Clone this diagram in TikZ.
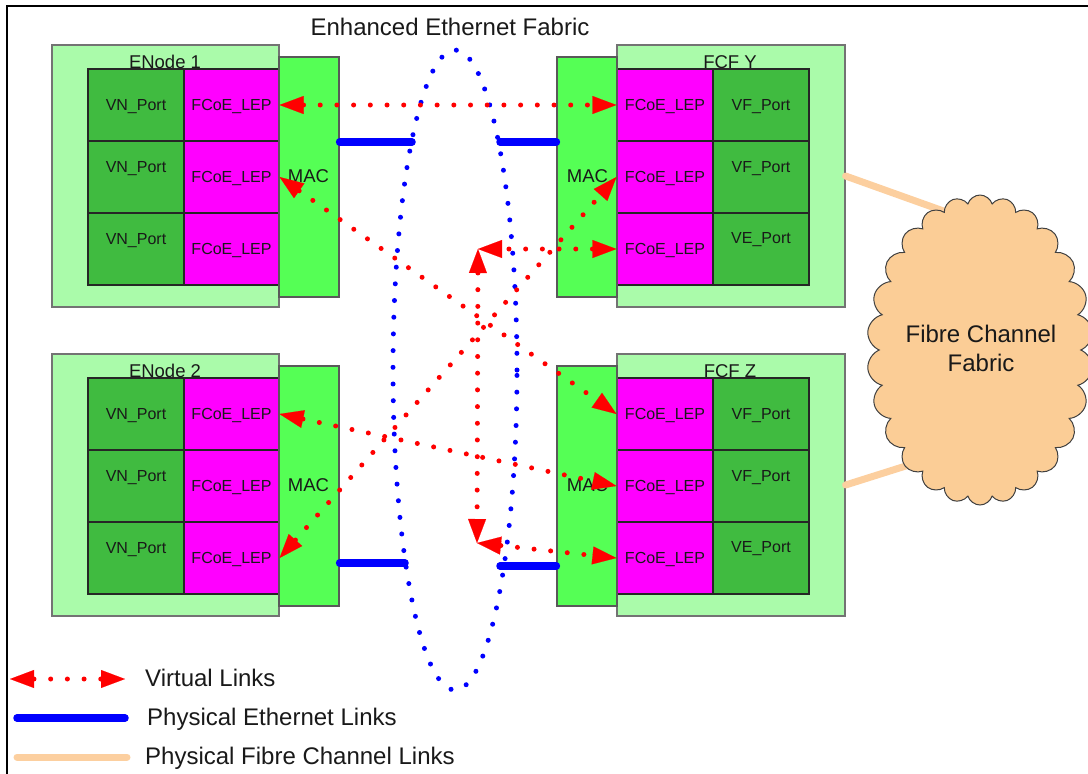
\documentclass[tikz,border=0pt]{standalone}
\usepackage{fontspec}
\setmainfont{Liberation Sans}
\usetikzlibrary{arrows.meta,shapes.symbols}

\definecolor{boxgreen}{HTML}{AAFBAA}
\definecolor{macgreen}{HTML}{55FF55}
\definecolor{portgreen}{HTML}{40BB40}
\definecolor{lepmag}{HTML}{FF00FF}
\definecolor{fcpeach}{HTML}{FBCD96}
\definecolor{fcline}{HTML}{FCCF9F}
\definecolor{ethblue}{HTML}{0000FF}
\definecolor{vred}{HTML}{FF0000}

\tikzset{
  outerbox/.style={draw=black!55, fill=boxgreen, line width=1.2pt,
    minimum width=227pt, minimum height=262pt, inner sep=0pt},
  macbox/.style={draw=black!65, fill=macgreen, line width=1.2pt,
    minimum width=60pt, minimum height=240pt, inner sep=0pt},
  portcell/.style={draw=black!85, fill=portgreen, line width=1.1pt,
    minimum width=96pt, minimum height=72pt, inner sep=0pt},
  lepcell/.style={draw=black!85, fill=lepmag, line width=1.1pt,
    minimum width=96pt, minimum height=72pt, inner sep=0pt},
  celltext/.style={anchor=base, inner sep=0pt, text=black!90,
    font=\fontsize{16}{19}\selectfont},
  mactext/.style={anchor=base, inner sep=0pt, text=black!90,
    font=\fontsize{18.5}{22}\selectfont},
  boxtitle/.style={anchor=base, inner sep=0pt, text=black!90,
    font=\fontsize{18.5}{22}\selectfont},
  bigtext/.style={inner sep=0pt, text=black!90,
    font=\fontsize{24}{29}\selectfont},
  vtip/.tip={Triangle[length=24pt, width=18pt, line width=0.1pt]},
  vlink/.style={draw=vred, line width=5pt, line cap=round,
    dash pattern=on 0pt off 16.7pt, vtip-vtip},
  ethlink/.style={draw=ethblue, line width=7.5pt, line cap=round},
  ethcloud/.style={draw=ethblue, line width=5pt, line cap=round,
    dash pattern=on 0pt off 16.7pt},
  fclink/.style={draw=fcline, line width=7pt, line cap=round},
  frame/.style={draw=black, line width=1.8pt},
}

\begin{document}
\begin{tikzpicture}[x=1pt, y=-1pt]
\useasboundingbox (0,0) rectangle (1088,774);

% frame edges
\draw[frame] (7,774) -- (7,6) -- (1088,6);

% title of the Ethernet fabric
\node[bigtext, anchor=base] (title) at (450,35) {Enhanced Ethernet Fabric};

% the two ENodes
\foreach \n/\off/\lab in {1/0/{ENode 1}, 2/309/{ENode 2}} {
  \begin{scope}[yshift=-\off pt]
    \node[outerbox] (en\n) at (165.5,176) {};
    \node[boxtitle] (en\n-t) at (165,68) {\lab};
    \foreach \r/\y/\vb/\lb in {1/105/110/110, 2/177/172/182, 3/249/244/254} {
      \node[portcell] (en\n-v\r) at (136,\y) {};
      \node[lepcell, minimum width=95pt] (en\n-l\r) at (231.5,\y) {};
      \node[celltext] (en\n-vt\r) at (136,\vb) {VN\_Port};
      \node[celltext] (en\n-lt\r) at (231.5,\lb) {FCoE\_LEP};
    }
    \node[macbox] (en\n-mac) at (309,177) {};
    \node[mactext] (en\n-mt) at (308.5,182) {MAC};
  \end{scope}
}

% the two FCFs
\foreach \n/\off/\lab in {y/0/{FCF Y}, z/309/{FCF Z}} {
  \begin{scope}[yshift=-\off pt]
    \node[outerbox, minimum width=228pt] (f\n) at (731,176) {};
    \node[boxtitle] (f\n-t) at (730,68) {\lab};
    \foreach \r/\y/\vb/\lb/\pt in {1/105/110/110/{VF\_Port},
        2/177/172/182/{VF\_Port}, 3/249/243/254/{VE\_Port}} {
      \node[lepcell] (f\n-l\r) at (665,\y) {};
      \node[portcell] (f\n-v\r) at (761,\y) {};
      \node[celltext] (f\n-lt\r) at (665,\lb) {FCoE\_LEP};
      \node[celltext] (f\n-vt\r) at (761,\vb) {\pt};
    }
    \node[macbox] (f\n-mac) at (587,177) {};
    \node[mactext] (f\n-mt) at (587.5,182) {MAC};
  \end{scope}
}

% Enhanced Ethernet fabric outline
\draw[ethcloud] (455,370) ellipse [x radius=62pt, y radius=320pt];

% physical Ethernet links
\coordinate (ee1) at (412,142);
\coordinate (ee2) at (405,563);
\coordinate (ey) at (500,142);
\coordinate (ez) at (500,566);
\draw[ethlink] ([yshift=35pt]en1-mac.east) -- (ee1);
\draw[ethlink] ([yshift=-77pt]en2-mac.east) -- (ee2);
\draw[ethlink] (ey) -- ([yshift=35pt]fy-mac.west);
\draw[ethlink] (ez) -- ([yshift=-80pt]fz-mac.west);

% physical Fibre Channel links
\coordinate (fcin1) at (963,218);
\coordinate (fcin2) at (950,452);
\draw[fclink] (fy.east) -- (fcin1);
\draw[fclink] (fz.east) -- (fcin2);

% Fibre Channel fabric
\node[cloud, cloud puffs=26, cloud puff arc=145, cloud ignores aspect,
  minimum width=226pt, minimum height=310pt, draw=black!75, line width=1pt,
  fill=fcpeach] (fcf) at (980,350) {};
\node[bigtext, anchor=base] (fcf-t1) at (981,342) {Fibre Channel};
\node[bigtext, anchor=base] (fcf-t2) at (981,371) {Fabric};

% virtual links between FCoE link end points
\draw[vlink] (en1-l1.east) -- (fy-l1.west);
\draw[vlink] (en1-l2.east) -- (fz-l1.west);
\draw[vlink] (en2-l1.east) -- (fz-l2.west);
\draw[vlink] (en2-l3.east) -- (fy-l2.west);
\coordinate (ve1) at (478,249);
\coordinate (ve2) at (477,543);
\draw[vlink] (fy-l3.west) -- (ve1);
\draw[vlink] (ve1) -- (ve2);
\draw[vlink] (ve2) -- (fz-l3.west);

% legend
\coordinate (lv1) at (10,679);
\coordinate (lv2) at (125,679);
\draw[vlink] (lv1) -- (lv2);
\node[bigtext, anchor=base west] (lvt) at (145,686) {Virtual Links};
\coordinate (le1) at (17,718);
\coordinate (le2) at (125,718);
\draw[ethlink] (le1) -- (le2);
\node[bigtext, anchor=base west] (let) at (147,725) {Physical Ethernet Links};
\coordinate (lf1) at (17,757);
\coordinate (lf2) at (127,757);
\draw[fclink] (lf1) -- (lf2);
\node[bigtext, anchor=base west] (lft) at (145,764) {Physical Fibre Channel Links};
\end{tikzpicture}
\end{document}
